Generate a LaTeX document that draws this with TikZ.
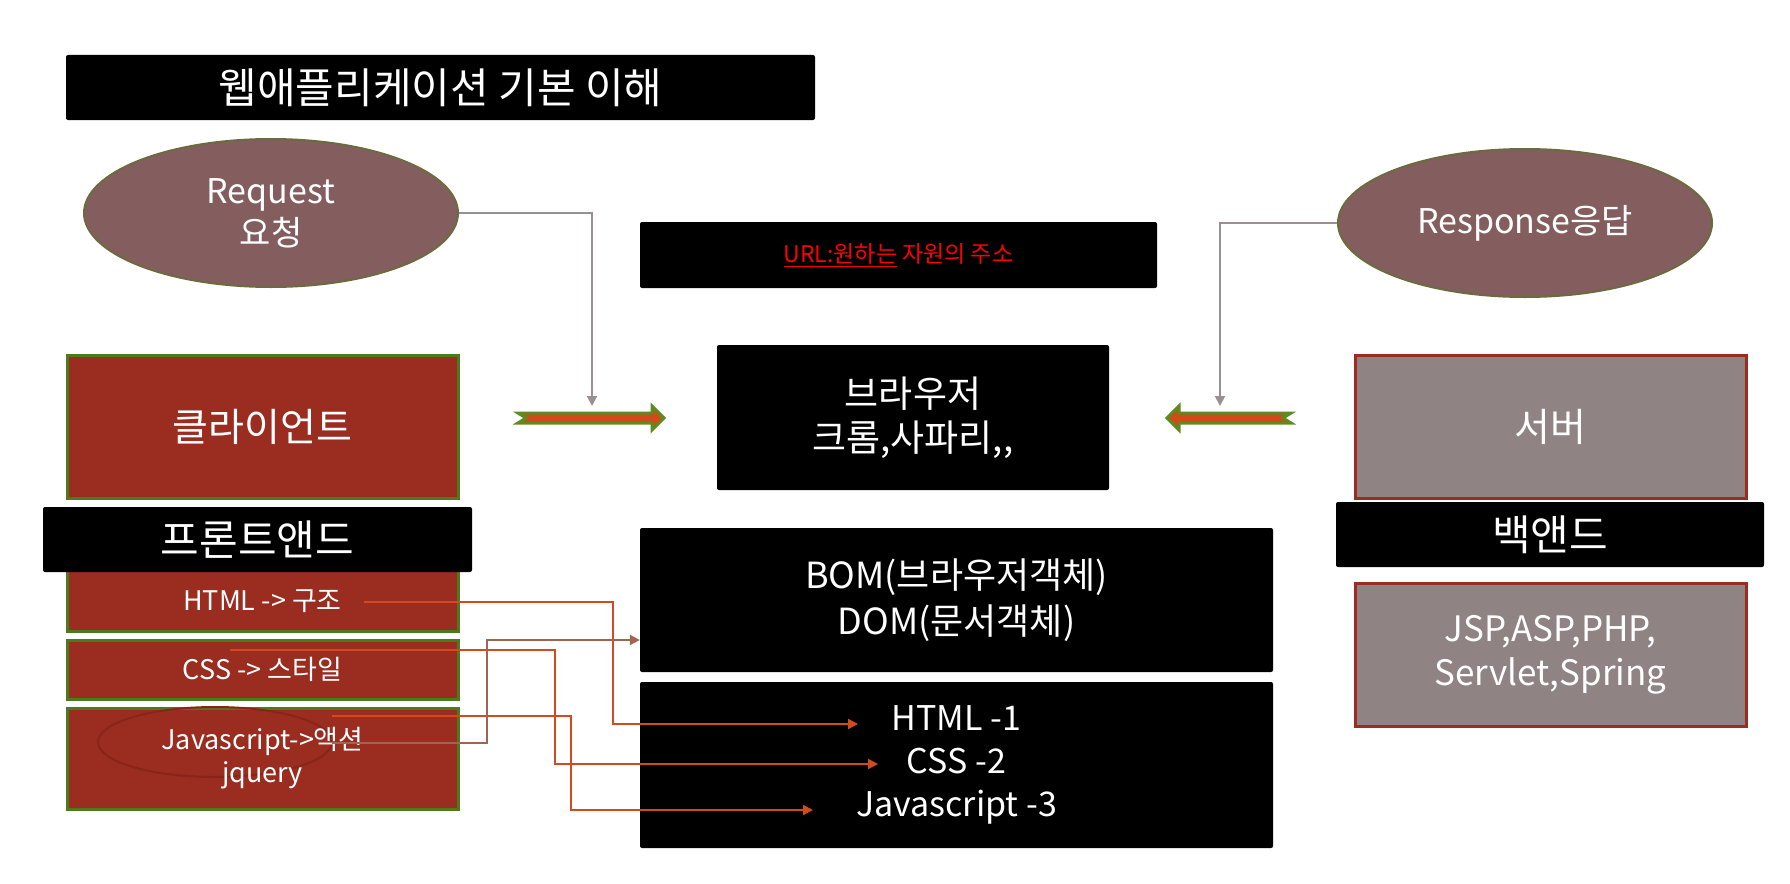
\documentclass[tikz,border=0pt]{standalone}
\usepackage{fontspec}
\setmainfont{Noto Sans CJK KR}
\usetikzlibrary{arrows.meta,shapes.geometric}
\definecolor{darkred}{HTML}{9A2C20}
\definecolor{boxgreen}{HTML}{4E7A1E}
\definecolor{ovalfill}{HTML}{845E5E}
\definecolor{ovalline}{HTML}{6B6B3F}
\definecolor{boxgray}{HTML}{8F8383}
\definecolor{conngray}{HTML}{9A8F93}
\definecolor{connorange}{HTML}{D24B1E}
\definecolor{connbrown}{HTML}{A06450}
\definecolor{arrgreen}{HTML}{5E8A1E}
\definecolor{arrorange}{HTML}{D04A1A}
\definecolor{ellred}{HTML}{8A2418}
\tikzset{
  blackbox/.style={fill=black, rounded corners=2pt, text=white, inner sep=0pt, align=center},
  redbox/.style={fill=darkred, draw=boxgreen, line width=3pt, text=white, inner sep=0pt, align=center},
  graybox/.style={fill=boxgray, draw=darkred, line width=3pt, text=white, inner sep=0pt, align=center},
  oval/.style={ellipse, fill=ovalfill, draw=ovalline, line width=2pt, text=white, inner sep=0pt, align=center},
  txt/.style={text=white, inner sep=0pt, align=center},
  grayconn/.style={draw=conngray, line width=2pt, -{Triangle[length=10pt,width=10pt]}},
  orangeconn/.style={draw=connorange, line width=2pt, -{Triangle[length=10pt,width=10pt]}},
  brownconn/.style={draw=connbrown, line width=2pt, -{Triangle[length=10pt,width=10pt]}},
  blockarrow/.style={draw=arrgreen, fill=arrorange, line width=3pt, line join=miter},
  fs/.style 2 args={font=\fontsize{#1}{#2}\selectfont}
}
\begin{document}
\begin{tikzpicture}[x=1pt,y=-1pt]
\useasboundingbox (0,0) rectangle (1790,883);
\fill[white] (0,0) rectangle (1790,883);

% title
\node[blackbox, minimum width=749pt, minimum height=65pt, fs={42}{48}] (title) at (440.5,87.5) {웹애플리케이션 기본 이해};

% ellipses
\node[oval, minimum width=374pt, minimum height=148pt, fs={34}{42}] (req) at (271,213) {Request\\요청};
\node[oval, minimum width=374pt, minimum height=148pt, fs={34}{42}] (res) at (1525,223) {Response응답};

% URL box
\node[blackbox, minimum width=517pt, minimum height=66pt, fs={23}{26}] (url) at (898.5,255)
  {\color{red}\underline{URL:원하는} 자원의 주소};

% browser
\node[blackbox, minimum width=392pt, minimum height=145pt, fs={37}{44}] (browser) at (913,417.5) {브라우저\\크롬,사파리,{},};

% client side
\node[redbox, minimum width=391pt, minimum height=143pt, fs={39}{44}] (client) at (262.5,426.5) {클라이언트};
\node[redbox, minimum width=391pt, minimum height=71pt] (htmlbox) at (262.5,595.5) {};
\node[txt, fs={27}{30}] (htmltxt) at (262.5,601) {HTML -> 구조};
\node[blackbox, minimum width=429pt, minimum height=65pt, fs={42}{46}] (front) at (257.5,539.5) {프론트앤드};
\node[redbox, minimum width=391pt, minimum height=59pt, fs={27}{30}] (cssbox) at (262.5,669.5) {CSS -> 스타일};
\node[redbox, minimum width=391pt, minimum height=101pt] (jsbox) at (262.5,758.5) {};
\node[ellipse, draw=ellred, line width=2pt, minimum width=234pt, minimum height=70pt] (jsell) at (215,742) {};
\node[txt, fs={27}{33}] (jstxt) at (262.5,758.5) {Javascript->액션\\jquery};

% BOM / DOM
\node[blackbox, minimum width=633pt, minimum height=144pt, fs={36}{46}] (bom) at (956.5,600) {BOM(브라우저객체)\\DOM(문서객체)};
\node[blackbox, minimum width=633pt, minimum height=166pt, fs={34}{43}] (langs) at (956.5,765) {HTML -1\\CSS -2\\Javascript -3};

% server side
\node[graybox, minimum width=391pt, minimum height=143pt, fs={39}{44}] (server) at (1550.5,426.5) {서버};
\node[blackbox, minimum width=428pt, minimum height=65pt, fs={42}{46}] (back) at (1550,534.5) {백앤드};
\node[graybox, minimum width=391pt, minimum height=143pt, fs={35}{44}] (jsp) at (1550.5,654.5) {JSP,ASP,PHP,\\Servlet,Spring};

% block arrows
\draw[blockarrow] (518,413) -- (652,413) -- (652,406) -- (664,418) -- (652,430) -- (652,423) -- (518,423) -- (526,418) -- cycle;
\coordinate (larrow) at (592,406);
\draw[blockarrow] (1291,413) -- (1179,413) -- (1179,406) -- (1167,418) -- (1179,430) -- (1179,423) -- (1291,423) -- (1283,418) -- cycle;
\coordinate (rarrow) at (1220,406);

% request/response connectors
\draw[grayconn] (req.east) -| (larrow);
\draw[grayconn] (res.west) -| (rarrow);

% orange/brown connectors
\coordinate (hs) at (364,602);
\coordinate (he) at (858,724);
\coordinate (cs) at (230,650);
\coordinate (ce) at (878,764);
\coordinate (js) at (332,716);
\coordinate (je) at (813,810);
\coordinate (bs) at (332,743);
\draw[orangeconn] (hs) -- (613,602) -- (613,724) -- (he);
\draw[orangeconn] (cs) -- (555,650) -- (555,764) -- (ce);
\draw[orangeconn] (js) -- (571,716) -- (571,810) -- (je);
\draw[brownconn] (bs) -- (487,743) -- (487,640) -- (bom.west |- 0,640);
\end{tikzpicture}
\end{document}
